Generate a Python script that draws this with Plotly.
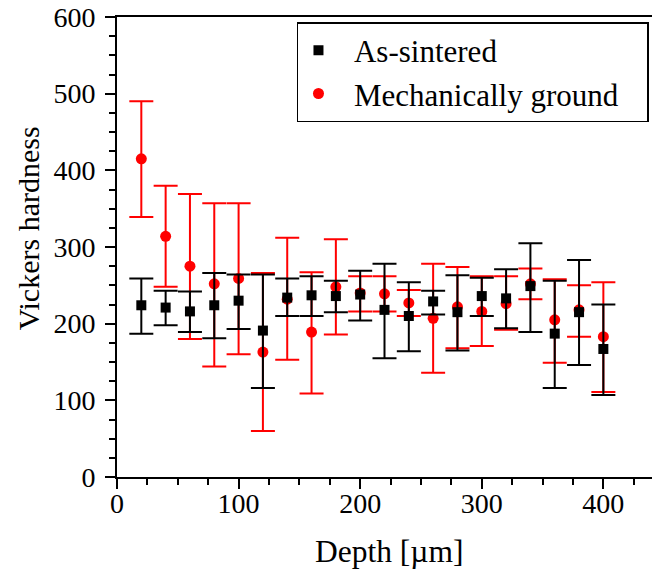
import plotly.graph_objects as go

# Depth positions (um)
depth = [20, 40, 60, 80, 100, 120, 140, 160, 180, 200,
         220, 240, 260, 280, 300, 320, 340, 360, 380, 400]

# As-sintered: mean, upper and lower bar ends
sint_mean = [224, 221, 216, 224, 230, 191, 234, 237, 236, 238,
             218, 210, 229, 215, 236, 233, 249, 187, 215, 167]
sint_hi = [259, 243, 242, 266, 264, 264, 259, 262, 256, 269,
           278, 254, 243, 263, 260, 271, 305, 256, 283, 225]
sint_lo = [187, 198, 189, 181, 193, 116, 210, 210, 215, 204,
           155, 164, 212, 165, 210, 194, 189, 116, 146, 107]

# Mechanically ground: mean, upper and lower bar ends
grnd_mean = [415, 314, 275, 252, 259, 163, 232, 189, 248, 240,
             239, 227, 207, 222, 216, 226, 252, 205, 218, 183]
grnd_hi = [490, 380, 369, 357, 357, 266, 312, 267, 310, 262,
           262, 244, 278, 274, 262, 262, 272, 258, 250, 254]
grnd_lo = [339, 248, 180, 144, 160, 60, 153, 109, 186, 216,
           216, 210, 136, 168, 171, 192, 232, 149, 183, 111]

up = lambda hi, m: [h - v for h, v in zip(hi, m)]
dn = lambda lo, m: [v - l for l, v in zip(lo, m)]

# non-breaking spaces widen the legend entries to the original's spacing
# (kept short enough that the legend stays inside the plot and doesn't push the margin)
nb = "\u00a0"

fig = go.Figure()
fig.add_trace(go.Scatter(
    x=depth, y=grnd_mean, mode="markers",
    name=nb * 2 + "Mechanically ground" + nb * 3,
    marker=dict(symbol="circle", size=11, color="#ff0000"),
    error_y=dict(type="data", symmetric=False,
                 array=up(grnd_hi, grnd_mean), arrayminus=dn(grnd_lo, grnd_mean),
                 color="#ff0000", thickness=2, width=12),
    legendrank=2))
fig.add_trace(go.Scatter(
    x=depth, y=sint_mean, mode="markers", name=nb * 2 + "As-sintered",
    marker=dict(symbol="square", size=10, color="#000000"),
    error_y=dict(type="data", symmetric=False,
                 array=up(sint_hi, sint_mean), arrayminus=dn(sint_lo, sint_mean),
                 color="#000000", thickness=2, width=12),
    legendrank=1))

axis_common = dict(
    automargin=False, ticklabeloverflow="allow",
    showgrid=False, zeroline=False, showline=True, linecolor="black", linewidth=2,
    ticks="outside", ticklen=10, tickwidth=2, tickcolor="black",
    tickfont=dict(size=28, color="black"),
)
minor_ticks = dict(ticks="outside", ticklen=6, tickwidth=2, tickcolor="black")

fig.update_xaxes(range=[0, 440], tick0=0, dtick=100, mirror=True,
                 minor=dict(dtick=25, **minor_ticks), ticklabelstandoff=-10,
                 **axis_common)
fig.update_yaxes(range=[0, 600], tick0=0, dtick=100,
                 minor=dict(dtick=25, **minor_ticks), ticklabelstandoff=4,
                 **axis_common)

# axis titles placed as annotations so they can sit off-centre like the original
fig.add_annotation(text="Depth [µm]", xref="paper", yref="paper", x=0.51, y=-0.161,
                   xanchor="center", yanchor="middle", showarrow=False,
                   font=dict(size=31.5, color="black"))
fig.add_annotation(text="Vickers hardness", xref="paper", yref="paper", x=-0.166, y=0.541,
                   xanchor="center", yanchor="middle", textangle=-90, showarrow=False,
                   font=dict(size=30, color="black"))

fig.update_layout(
    width=652, height=573,
    margin=dict(l=117, r=0, t=17, b=96),
    paper_bgcolor="white", plot_bgcolor="white",
    font=dict(family="Liberation Serif", color="black"),
    legend=dict(x=0.3364, xanchor="left", y=0.989, yanchor="top",
                font=dict(size=31, color="black"),
                bgcolor="white", bordercolor="black", borderwidth=1.5),
)

# drop the default 8px page margin so the figure fills the window
fig.write_html("out.html",
               config={"responsive": False, "displayModeBar": False},
               post_script="document.body.style.margin = '0px'; document.body.style.overflow = 'hidden';")
